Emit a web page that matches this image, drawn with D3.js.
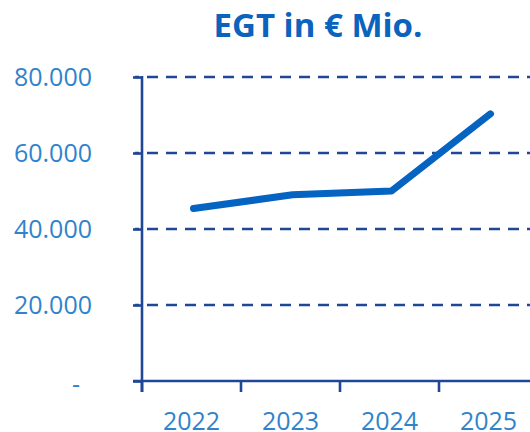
<!DOCTYPE html>
<html lang="de">
<head>
<meta charset="UTF-8">
<title>EGT in € Mio.</title>
<script src="https://d3js.org/d3.v7.min.js"></script>
<style>
  body { margin: 0; background: #fff; }
  text { font-family: "Open Sans", sans-serif; }
</style>
</head>
<body>
<svg id="chart" width="530" height="432"></svg>
<script>
const years = ["2022", "2023", "2024", "2025"];
const egt = [45400, 49000, 50000, 70300];
const yTicks = [0, 20000, 40000, 60000, 80000];

const svg = d3.select("#chart");
const axisColor = "#1f4796";
const labelColor = "#2f83cc";
const lineColor = "#0563c1";

const x = d3.scaleBand().domain(years).range([142, 538]);
const y = d3.scaleLinear().domain([0, 80000]).range([381, 77]);

// title
svg.append("text")
    .attr("x", 318)
    .attr("y", 37)
    .attr("text-anchor", "middle")
    .style("font-size", "33px")
    .style("font-weight", "bold")
    .style("fill", "#0a63bd")
    .text("EGT in € Mio.");

// dashed gridlines
svg.append("g")
    .selectAll("line")
    .data(yTicks.filter(d => d > 0))
    .join("line")
    .attr("x1", 135)
    .attr("x2", 530)
    .attr("y1", d => y(d))
    .attr("y2", d => y(d))
    .attr("stroke", axisColor)
    .attr("stroke-width", 2.6)
    .attr("stroke-dasharray", "11,8")
    .attr("stroke-dashoffset", -12);

// y axis
const yAxis = svg.append("g")
    .attr("transform", "translate(142,0)")
    .call(d3.axisLeft(y).tickValues(yTicks).tickSize(9).tickPadding(41)
        .tickFormat(d => d === 0 ? "-" : d3.format(",")(d).replace(/,/g, ".")));
yAxis.select(".domain").remove();
yAxis.append("line")
    .attr("x1", 0).attr("x2", 0)
    .attr("y1", y(80000) - 1).attr("y2", 392)
    .attr("stroke", axisColor).attr("stroke-width", 2.6);
yAxis.selectAll(".tick line").attr("stroke", axisColor).attr("stroke-width", 2.6);
yAxis.selectAll(".tick text")
    .style("font-size", "25px")
    .style("fill", labelColor)
    .attr("dx", d => d === 0 ? "-12px" : 0)
    .attr("dy", d => d === 0 ? "0.45em" : "0.34em");

// x axis
const xAxis = svg.append("g")
    .attr("transform", "translate(0," + y(0) + ")");
xAxis.append("line")
    .attr("x1", 133).attr("x2", 530)
    .attr("y1", 0).attr("y2", 0)
    .attr("stroke", axisColor).attr("stroke-width", 2.6);
xAxis.selectAll("line.tk")
    .data(years)
    .join("line")
    .attr("class", "tk")
    .attr("x1", d => x(d)).attr("x2", d => x(d))
    .attr("y1", 0).attr("y2", 11)
    .attr("stroke", axisColor).attr("stroke-width", 2.6);
xAxis.selectAll("text")
    .data(years)
    .join("text")
    .attr("x", d => x(d) + x.bandwidth() / 2)
    .attr("y", 49)
    .attr("text-anchor", "middle")
    .style("font-size", "25px")
    .style("fill", labelColor)
    .text(d => d);

// line
const line = d3.line()
    .x((d, i) => x(years[i]) + x.bandwidth() / 2 + 2)
    .y(d => y(d));

svg.append("path")
    .datum(egt)
    .attr("d", line)
    .attr("fill", "none")
    .attr("stroke", lineColor)
    .attr("stroke-width", 7)
    .attr("stroke-linecap", "round")
    .attr("stroke-linejoin", "round");
</script>
</body>
</html>
